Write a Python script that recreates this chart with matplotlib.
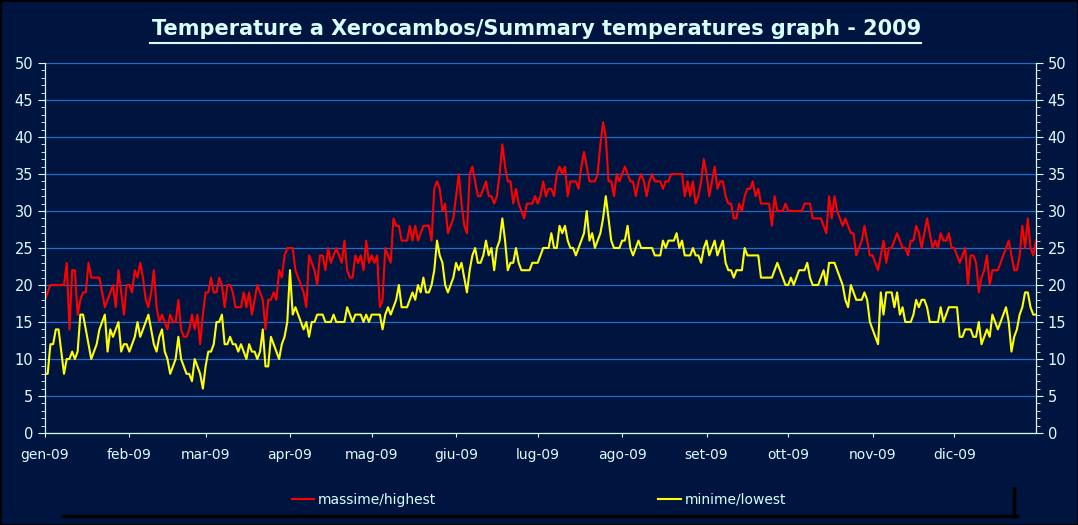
import matplotlib.pyplot as plt
from matplotlib.lines import Line2D
from matplotlib.ticker import MultipleLocator

# daily maximum temperatures, one list per month (2009)
max_gen = [18, 19, 20, 20, 20, 20, 20, 20, 23, 14, 22, 22, 16, 18, 19, 19, 23, 21, 21, 21, 21, 19, 17, 18, 19, 20, 17, 22, 19, 16, 20]
max_feb = [20, 19, 22, 21, 23, 21, 18, 17, 19, 22, 17, 15, 16, 15, 14, 16, 15, 15, 18, 14, 13, 13, 14, 16, 14, 16, 12, 16]
max_mar = [19, 19, 21, 19, 19, 21, 20, 17, 20, 20, 19, 17, 17, 17, 19, 17, 19, 16, 18, 20, 19, 18, 14, 18, 18, 19, 18, 22, 21, 24, 25]
max_apr = [25, 25, 22, 21, 20, 19, 17, 24, 23, 22, 20, 24, 24, 22, 25, 23, 24, 25, 24, 23, 26, 22, 21, 21, 24, 23, 24, 22, 26, 23]
max_mag = [24, 23, 24, 17, 18, 25, 24, 23, 29, 28, 28, 26, 26, 26, 28, 26, 28, 26, 27, 28, 28, 28, 26, 33, 34, 33, 30, 31, 27, 28, 29]
max_giu = [32, 35, 31, 28, 27, 35, 36, 34, 32, 32, 33, 34, 32, 32, 31, 32, 35, 39, 36, 34, 34, 31, 33, 31, 30, 29, 31, 31, 31, 32]
max_lug = [31, 32, 34, 32, 33, 33, 32, 35, 36, 35, 36, 32, 34, 34, 34, 33, 36, 38, 36, 34, 34, 34, 35, 39, 42, 40, 34, 34, 32, 35, 34]
max_ago = [35, 36, 35, 34, 34, 32, 34, 35, 34, 32, 34, 35, 34, 34, 34, 33, 34, 34, 35, 35, 35, 35, 35, 32, 34, 32, 34, 31, 32, 34, 37]
max_set = [35, 32, 34, 36, 33, 34, 34, 32, 31, 31, 29, 29, 31, 30, 32, 33, 33, 34, 32, 33, 31, 31, 31, 31, 28, 32, 30, 30, 30, 31]
max_ott = [30, 30, 30, 30, 30, 30, 31, 31, 31, 29, 29, 29, 29, 28, 27, 32, 29, 32, 30, 29, 28, 29, 28, 27, 27, 24, 25, 26, 28, 26, 24]
max_nov = [24, 23, 22, 24, 26, 23, 25, 25, 26, 27, 26, 25, 25, 24, 26, 26, 28, 27, 25, 27, 29, 27, 25, 26, 25, 27, 26, 26, 27, 25]
max_dic = [25, 24, 23, 24, 25, 20, 24, 24, 23, 19, 21, 22, 24, 20, 22, 22, 22, 23, 24, 25, 26, 24, 22, 22, 24, 28, 25, 29, 25, 24, 26]

# daily minimum temperatures
min_gen = [8, 8, 12, 12, 14, 14, 11, 8, 10, 10, 11, 10, 11, 16, 16, 14, 12, 10, 11, 12, 14, 15, 16, 11, 14, 13, 14, 15, 11, 12, 12]
min_feb = [11, 12, 13, 15, 13, 14, 15, 16, 14, 12, 11, 13, 14, 11, 10, 8, 9, 10, 13, 10, 9, 8, 8, 7, 10, 9, 8, 6]
min_mar = [9, 11, 11, 12, 15, 15, 16, 12, 12, 13, 12, 12, 11, 12, 11, 10, 12, 11, 11, 10, 11, 14, 9, 9, 13, 12, 11, 10, 12, 13, 15]
min_apr = [22, 16, 17, 16, 15, 14, 15, 13, 15, 15, 16, 16, 16, 15, 15, 15, 16, 15, 15, 15, 15, 17, 16, 15, 16, 16, 16, 15, 16, 15]
min_mag = [16, 16, 16, 16, 14, 16, 17, 16, 17, 18, 20, 17, 17, 17, 18, 19, 18, 20, 19, 21, 19, 19, 20, 22, 26, 24, 23, 20, 19, 20, 21]
min_giu = [23, 22, 23, 21, 19, 22, 24, 25, 23, 23, 24, 26, 24, 25, 22, 25, 26, 29, 26, 22, 23, 23, 25, 23, 22, 22, 22, 22, 23, 23]
min_lug = [23, 24, 25, 25, 25, 27, 25, 25, 28, 27, 28, 26, 25, 25, 24, 25, 26, 27, 30, 26, 27, 25, 26, 27, 29, 32, 29, 26, 25, 25, 25]
min_ago = [26, 26, 28, 25, 24, 25, 26, 25, 25, 25, 25, 25, 24, 24, 24, 26, 25, 26, 26, 26, 27, 25, 26, 24, 24, 24, 25, 24, 24, 23, 25]
min_set = [26, 24, 25, 26, 24, 25, 26, 23, 22, 22, 21, 22, 22, 22, 25, 24, 24, 24, 24, 24, 21, 21, 21, 21, 21, 22, 23, 22, 21, 20]
min_ott = [20, 21, 20, 21, 22, 22, 22, 23, 21, 20, 20, 20, 21, 22, 20, 23, 23, 23, 22, 21, 20, 18, 17, 20, 19, 18, 18, 18, 19, 18, 15]
min_nov = [14, 13, 12, 19, 16, 19, 19, 19, 17, 19, 16, 17, 15, 15, 15, 16, 18, 17, 18, 18, 17, 15, 15, 15, 15, 17, 15, 16, 17, 17]
min_dic = [17, 17, 13, 13, 14, 14, 14, 13, 13, 15, 12, 13, 14, 13, 16, 15, 14, 15, 16, 17, 15, 11, 13, 14, 16, 17, 19, 19, 17, 16, 16]

month_labels = ["gen-09", "feb-09", "mar-09", "apr-09", "mag-09", "giu-09",
                "lug-09", "ago-09", "set-09", "ott-09", "nov-09", "dic-09"]

highs = (max_gen + max_feb + max_mar + max_apr + max_mag + max_giu +
         max_lug + max_ago + max_set + max_ott + max_nov + max_dic)
lows = (min_gen + min_feb + min_mar + min_apr + min_mag + min_giu +
        min_lug + min_ago + min_set + min_ott + min_nov + min_dic)
days = list(range(len(highs)))

month_lists = [max_gen, max_feb, max_mar, max_apr, max_mag, max_giu,
               max_lug, max_ago, max_set, max_ott, max_nov, max_dic]
month_starts = []
pos = 0
for m in month_lists:
    month_starts.append(pos)
    pos += len(m)

bg = "#001440"
txt = "#D8FFFF"
plt.rcParams['font.family'] = ['DejaVu Sans']

fig = plt.figure(figsize=(10.78, 5.25), dpi=100, facecolor=bg)
ax = fig.add_axes([0.0417, 0.1752, 0.9193, 0.7048])
ax.set_facecolor(bg)

ax.plot(days, highs, color="#FF0000", lw=1.5, label="massime/highest", zorder=3)
ax.plot(days, lows, color="#FFFF00", lw=1.5, label="minime/lowest", zorder=3)

ax.set_xlim(0, len(days) - 1)
ax.set_ylim(0, 50)
ax.set_yticks(range(0, 51, 5))
ax.yaxis.set_minor_locator(MultipleLocator(1))
ax.grid(axis="y", color="#1E6FD0", lw=0.9)
ax.set_axisbelow(True)

ax.set_xticks(month_starts)
ax.set_xticklabels(month_labels)
ax.tick_params(axis="x", colors=txt, labelsize=10, length=3, pad=8)
ax.tick_params(axis="y", which="both", colors=txt, labelsize=10.5, direction="out")
ax.tick_params(axis="y", which="major", length=5)
ax.tick_params(axis="y", which="minor", length=3)

for s in ["left", "right", "bottom"]:
    ax.spines[s].set_color(txt)
ax.spines["top"].set_visible(False)

ax2 = ax.twinx()
ax2.set_ylim(0, 50)
ax2.set_yticks(range(0, 51, 5))
ax2.yaxis.set_minor_locator(MultipleLocator(1))
ax2.tick_params(axis="y", which="both", colors=txt, labelsize=10.5, direction="out")
ax2.tick_params(axis="y", which="major", length=5)
ax2.tick_params(axis="y", which="minor", length=3)
for s in ["left", "right", "bottom"]:
    ax2.spines[s].set_color(txt)
ax2.spines["top"].set_visible(False)

# title with underline
fig.text(0.498, 0.945, "Temperature a Xerocambos/Summary temperatures graph - 2009",
         ha="center", va="center", color=txt, fontsize=15, fontweight="bold")
fig.add_artist(Line2D([0.139, 0.854], [0.918, 0.918], color=txt, lw=1.5))

# legend at the bottom with black shadow
leg = fig.legend(loc="center", bbox_to_anchor=(0.5, 0.048), ncol=2, frameon=False,
                 fontsize=10, columnspacing=16, handlelength=1.6, handletextpad=0.3)
for t in leg.get_texts():
    t.set_color(txt)
fig.add_artist(Line2D([0.058, 0.943], [0.018, 0.018], color="black", lw=2.5))
fig.add_artist(Line2D([0.941, 0.941], [0.018, 0.07], color="black", lw=2.5))

# thin outer frame
fig.add_artist(Line2D([0, 1, 1, 0, 0], [0, 0, 1, 1, 0], color="black", lw=2))

fig.savefig("out.png", dpi=100, facecolor=bg)
